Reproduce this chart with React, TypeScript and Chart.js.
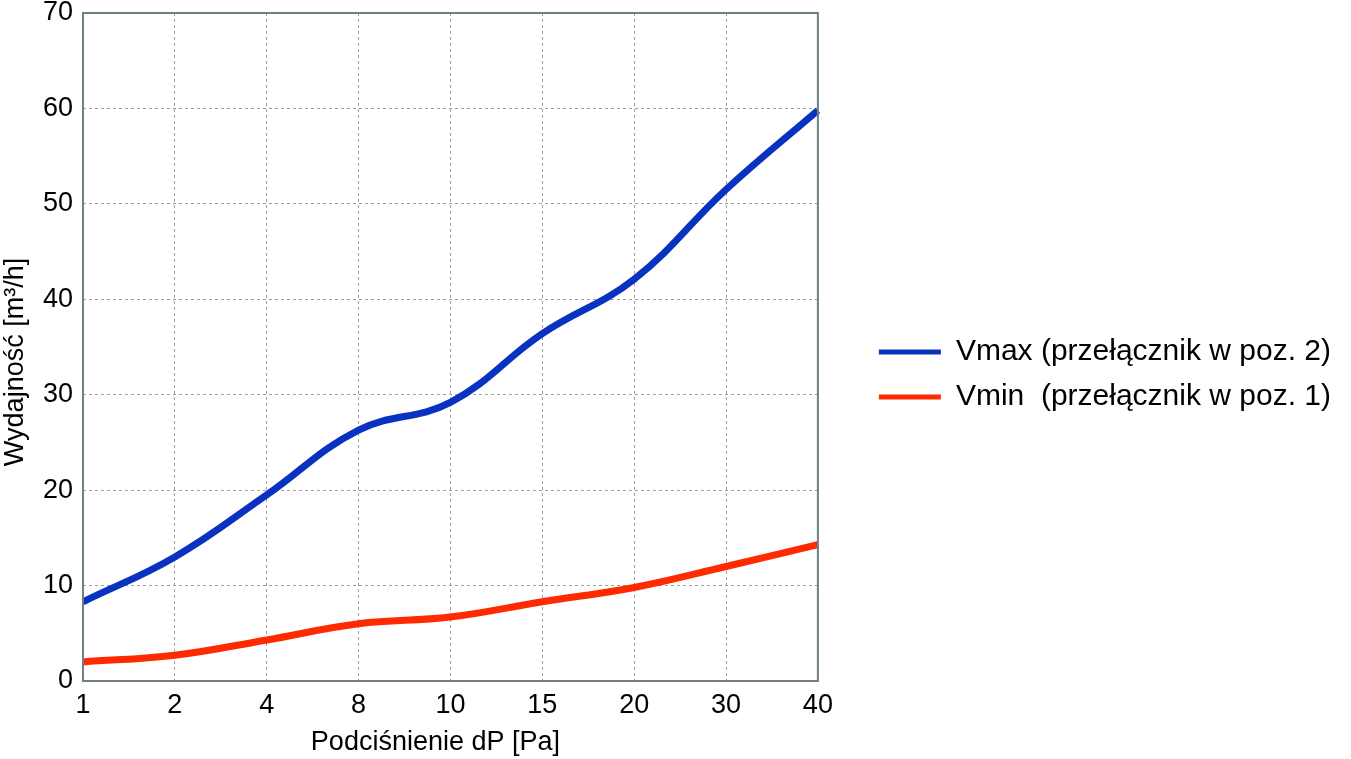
import { useEffect, useRef } from "react";
import { Chart, registerables } from "chart.js";
Chart.register(...registerables);

const pressures = ["1", "2", "4", "8", "10", "15", "20", "30", "40"];
const vmax = [8.3, 13.0, 19.5, 26.3, 29.2, 36.4, 42.1, 51.5, 59.8];
const vmin = [2.0, 2.7, 4.3, 6.0, 6.7, 8.3, 9.8, 12.0, 14.3];
const seriesNames = ["Vmax (przełącznik w poz. 2)", "Vmin  (przełącznik w poz. 1)"];
// trailing no-break spaces nudge the titles off-centre like in the original
const xTitle = "Podciśnienie dP [Pa]\u00a0\u00a0\u00a0\u00a0";
const yTitle = "Wydajność [m³/h]\u00a0\u00a0\u00a0\u00a0";

const FONT = "'Liberation Sans', Arial, sans-serif";
const FRAME = "#6f7f80";

// draws the box around the plot area
const framePlugin = {
  id: "frame",
  afterDatasetsDraw(chart: Chart) {
    const { ctx, chartArea } = chart;
    ctx.save();
    ctx.strokeStyle = FRAME;
    ctx.lineWidth = 2;
    ctx.strokeRect(chartArea.left, chartArea.top, chartArea.right - chartArea.left, chartArea.bottom - chartArea.top);
    ctx.restore();
  },
};

const App = () => {
  const canvasRef = useRef<HTMLCanvasElement>(null);
  const chartRef = useRef<Chart | null>(null);

  useEffect(() => {
    Chart.defaults.font.family = FONT;
    Chart.defaults.color = "#000";

    const chart = new Chart(canvasRef.current!, {
      type: "line",
      data: {
        labels: pressures,
        datasets: [
          {
            label: seriesNames[0],
            data: vmax,
            borderColor: "#0a32c0",
            backgroundColor: "#0a32c0",
            borderWidth: 7,
            pointRadius: 0,
            tension: 0.4,
          },
          {
            label: seriesNames[1],
            data: vmin,
            borderColor: "#ff2a00",
            backgroundColor: "#ff2a00",
            borderWidth: 7,
            pointRadius: 0,
            tension: 0.4,
          },
        ],
      },
      options: {
        animation: false,
        responsive: true,
        maintainAspectRatio: false,
        layout: { padding: { left: 0, right: 10, top: 0, bottom: 10 } },
        plugins: {
          tooltip: { enabled: false },
          legend: {
            position: "right",
            align: "center",
            maxWidth: 520,
            labels: {
              boxWidth: 62,
              boxHeight: 5,
              padding: 15,
              font: { size: 30 },
              color: "#000",
              generateLabels: (c: Chart) =>
                Chart.defaults.plugins.legend.labels.generateLabels(c).map((item: any) => ({
                  ...item,
                  fillStyle: item.strokeStyle,
                  lineWidth: 0,
                })),
            },
          },
        },
        scales: {
          x: {
            offset: false,
            grid: { color: "#a0a0a0", lineWidth: 1, drawTicks: false },
            border: { display: false, dash: [3, 3] },
            ticks: { font: { size: 27, lineHeight: 1 }, padding: 11, maxRotation: 0 },
            title: {
              display: true,
              text: xTitle,
              font: { size: 27, lineHeight: 0.45 },
              padding: 0,
              color: "#000",
            },
            afterFit: (scale: any) => {
              scale.height = 68;
            },
          },
          y: {
            min: 0,
            max: 70,
            grid: { color: "#a0a0a0", lineWidth: 1, drawTicks: false },
            border: { display: false, dash: [3, 3] },
            ticks: { stepSize: 10, font: { size: 27, lineHeight: 0.22 }, padding: 10 },
            title: {
              display: true,
              text: yTitle,
              font: { size: 27, lineHeight: 1.15 },
              padding: 0,
              color: "#000",
            },
            afterFit: (scale: any) => {
              scale.width = 83;
            },
          },
          gap: {
            type: "linear",
            position: "right",
            display: true,
            grid: { display: false },
            border: { display: false },
            ticks: { display: false },
            afterFit: (scale: any) => {
              scale.width = 46;
            },
          },
        },
      },
      plugins: [framePlugin],
    });
    chartRef.current = chart;

    return () => {
      chart.destroy();
      chartRef.current = null;
    };
  }, []);

  return (
    <div style={{ position: "absolute", left: 0, top: 0, width: 1351, height: 759, background: "#fff" }}>
      <canvas ref={canvasRef} />
    </div>
  );
};

export default App;
